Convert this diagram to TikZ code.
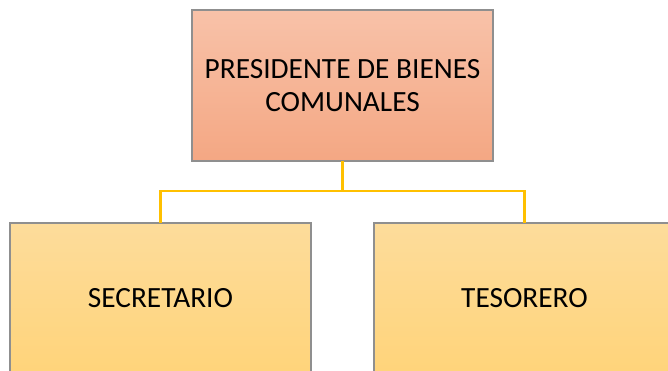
\documentclass[tikz,border=0pt]{standalone}
\usepackage{fontspec}
\setmainfont{Carlito}
\usepackage{tikz}

\definecolor{cajaroja1}{HTML}{F8C2A9}
\definecolor{cajaroja2}{HTML}{F4A783}
\definecolor{cajaamar1}{HTML}{FDDC9B}
\definecolor{cajaamar2}{HTML}{FFD47A}
\definecolor{lineaamar}{HTML}{FFC000}
\definecolor{borde}{HTML}{8F8F8F}

\tikzset{
  cargo/.style={draw=borde, line width=0.8pt, minimum width=225.75pt,
    minimum height=113.25pt, outer sep=0pt, align=center,
    font=\fontsize{22}{24.5}\selectfont},
  jefe/.style={cargo, top color=cajaroja1, bottom color=cajaroja2},
  auxiliar/.style={cargo, top color=cajaamar1, bottom color=cajaamar2},
  enlace/.style={draw=lineaamar, line width=2pt}
}

\begin{document}
\begin{tikzpicture}[x=0.75pt, y=-0.75pt]
% Organigrama de bienes comunales
\useasboundingbox (0,0) rectangle (668,371);
\clip (0,0) rectangle (668,371);
\node[jefe] (pres) at (342.5,85.5) {PRESIDENTE DE BIENES\\COMUNALES};
\node[auxiliar] (secr) at (160.5,298.5) {SECRETARIO};
\node[auxiliar] (teso) at (524.5,298.5) {TESORERO};
\coordinate (rama) at (342.5,191);
\draw[enlace] (pres.south) -- (rama);
\draw[enlace] (rama) -| (secr.north);
\draw[enlace] (rama) -| (teso.north);
\end{tikzpicture}
\end{document}
